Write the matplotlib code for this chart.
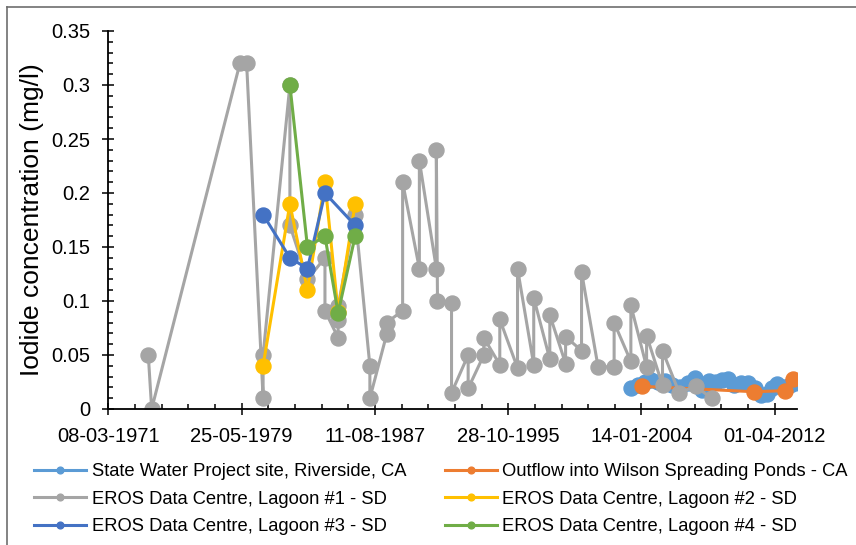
import matplotlib
matplotlib.use("Agg")
import matplotlib.pyplot as plt
import matplotlib.dates as mdates
from matplotlib.lines import Line2D
import pandas as pd

plt.rcParams["font.family"] = ["Liberation Sans", "DejaVu Sans"]

# State Water Project site, Riverside, CA
swp_dates = ["2003-05-30", "2003-10-20", "2004-03-25", "2004-08-10", "2005-01-15",
             "2005-06-20", "2005-11-25", "2006-05-25", "2006-11-20", "2007-04-25",
             "2007-10-01", "2008-03-05", "2008-08-10", "2008-12-25", "2009-05-10",
             "2009-09-20", "2010-02-25", "2010-08-05", "2011-01-05", "2011-05-20",
             "2011-10-05", "2012-01-25", "2012-05-15", "2012-10-01", "2013-03-01",
             "2013-07-10"]
swp_iodide = [0.019, 0.022, 0.025, 0.027, 0.025, 0.026, 0.022, 0.020, 0.024, 0.029,
              0.018, 0.026, 0.025, 0.027, 0.028, 0.022, 0.024, 0.024, 0.019, 0.013,
              0.014, 0.019, 0.023, 0.020, 0.022, 0.024]

# Outflow into Wilson Spreading Ponds - CA
wilson_dates = ["2004-01-30", "2010-12-20", "2012-11-17", "2013-05-05"]
wilson_iodide = [0.021, 0.016, 0.017, 0.028]

# EROS Data Centre, Lagoon #1 - SD
lagoon1_dates = ["1973-08-24", "1973-11-08", "1979-04-17", "1979-09-15", "1980-09-20",
                 "1980-09-20", "1982-05-16", "1982-05-16", "1983-06-15", "1984-07-13",
                 "1984-07-13", "1985-05-05", "1985-05-05", "1985-05-05", "1986-05-23",
                 "1987-04-20", "1987-04-20", "1988-05-01", "1988-05-01", "1989-04-26",
                 "1989-04-26", "1990-05-08", "1990-05-08", "1991-05-25", "1991-05-25",
                 "1991-06-20", "1992-05-01", "1992-05-01", "1993-05-10", "1993-05-10",
                 "1994-04-28", "1994-04-28", "1995-04-22", "1995-04-22", "1996-05-25",
                 "1996-05-25", "1997-05-25", "1997-05-25", "1998-05-22", "1998-05-22",
                 "1999-05-12", "1999-05-12", "2000-05-05", "2000-05-05", "2001-05-12",
                 "2002-05-08", "2002-05-08", "2003-05-20", "2003-05-20", "2004-05-08",
                 "2004-05-08", "2005-05-01", "2005-05-01", "2006-05-12", "2007-05-18",
                 "2008-05-08"]
lagoon1_iodide = [0.05, 0.0, 0.32, 0.32, 0.01, 0.05, 0.30, 0.17, 0.12, 0.14,
                  0.091, 0.066, 0.082, 0.095, 0.18, 0.04, 0.01, 0.069, 0.08, 0.091,
                  0.21, 0.13, 0.23, 0.13, 0.24, 0.10, 0.098, 0.015, 0.05, 0.019,
                  0.05, 0.066, 0.041, 0.083, 0.038, 0.13, 0.041, 0.103, 0.046, 0.087,
                  0.042, 0.067, 0.054, 0.127, 0.039, 0.039, 0.08, 0.044, 0.096, 0.039,
                  0.068, 0.022, 0.054, 0.015, 0.021, 0.01]

# Lagoons #2 to #4 share the same sampling dates
lagoon_dates = ["1980-09-20", "1982-05-16", "1983-06-15", "1984-07-13", "1985-05-05",
                "1986-05-23"]
lagoon2_iodide = [0.04, 0.19, 0.11, 0.21, 0.09, 0.19]
lagoon3_iodide = [0.18, 0.14, 0.13, 0.20, None, 0.17]
lagoon4_iodide = [None, 0.30, 0.15, 0.16, 0.089, 0.16]

series = [
    ("State Water Project site, Riverside, CA", swp_dates, swp_iodide, "#5B9BD5"),
    ("Outflow into Wilson Spreading Ponds - CA", wilson_dates, wilson_iodide, "#ED7D31"),
    ("EROS Data Centre, Lagoon #1 - SD", lagoon1_dates, lagoon1_iodide, "#A5A5A5"),
    ("EROS Data Centre, Lagoon #2 - SD", lagoon_dates, lagoon2_iodide, "#FFC000"),
    ("EROS Data Centre, Lagoon #3 - SD", lagoon_dates, lagoon3_iodide, "#4472C4"),
    ("EROS Data Centre, Lagoon #4 - SD", lagoon_dates, lagoon4_iodide, "#70AD47"),
]

W, H = 856, 545
fig = plt.figure(figsize=(W / 100, H / 100), dpi=100)
ax = fig.add_axes([108.3 / W, 1 - 409 / H, (797 - 108.3) / W, (409 - 31) / H])

handles = []
for label, dates, values, color in series:
    df = pd.DataFrame({"date": pd.to_datetime(dates), "iodide": values}).dropna()
    h, = ax.plot(df["date"], df["iodide"], color=color, lw=2.2, marker="o",
                 markersize=10.8, label=label)
    handles.append(h)

# axis range and ticks (every 3000 days, minor every 600)
x0 = pd.Timestamp("1971-03-08")
ax.set_xlim(x0, x0 + pd.Timedelta(days=15500))
ax.set_ylim(0, 0.35)
ax.set_xticks(pd.date_range(x0, periods=6, freq="3000D"))
ax.set_xticks(pd.date_range(x0, periods=26, freq="600D"), minor=True)
ax.xaxis.set_major_formatter(mdates.DateFormatter("%d-%m-%Y"))
ax.set_yticks([i * 0.05 for i in range(8)])
ax.set_yticks([i * 0.01 for i in range(36)], minor=True)
ax.set_yticklabels(["0", "0.05", "0.1", "0.15", "0.2", "0.25", "0.3", "0.35"])

for side in ["top", "right"]:
    ax.spines[side].set_visible(False)
for side in ["left", "bottom"]:
    ax.spines[side].set_linewidth(1.3)
    ax.spines[side].set_color("black")
ax.tick_params(which="major", direction="inout", length=8.5, width=1.1,
               labelsize=14.5, pad=9)
ax.tick_params(which="minor", direction="in", length=3.8, width=1.1)

ax.set_ylabel("Iodide concentration (mg/l)", fontsize=19)
ax.yaxis.set_label_coords(-0.094, 0.5)

# legend laid out row by row in two columns
order = [0, 2, 4, 1, 3, 5]
fig.legend([handles[i] for i in order], [handles[i].get_label() for i in order],
           ncol=2, loc="upper left", bbox_to_anchor=(34 / W, 1 - 463 / H),
           frameon=False, fontsize=13.2, markerscale=0.45, handlelength=2.85,
           handletextpad=0.3, columnspacing=2.1, labelspacing=0.58,
           borderpad=0, borderaxespad=0)

# chart area outline
fig.add_artist(Line2D([7.5 / W, 7.5 / W], [0, 1 - 6.5 / H], color="#6e6e6e", lw=1.2))
fig.add_artist(Line2D([7.5 / W, 1], [1 - 6.5 / H, 1 - 6.5 / H], color="#6e6e6e", lw=1.2))

fig.savefig("out.png", dpi=100)
